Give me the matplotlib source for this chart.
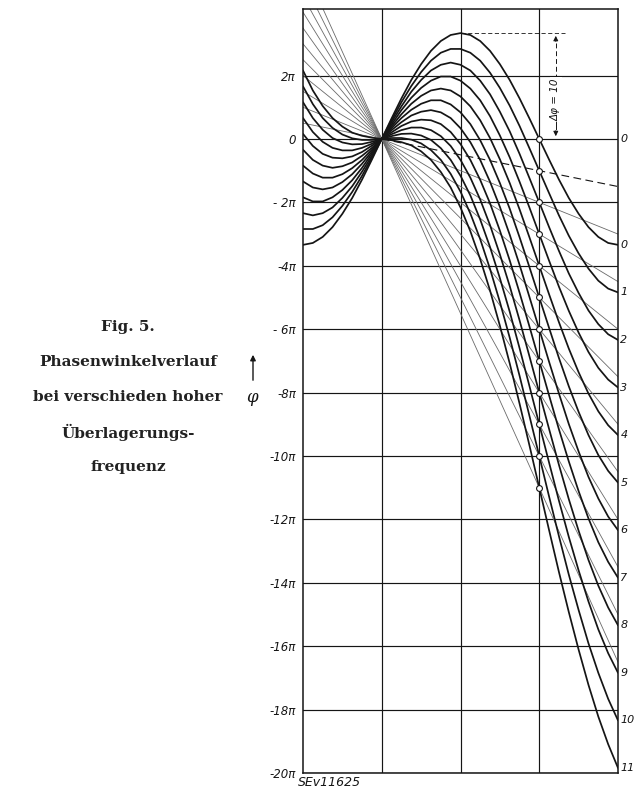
import matplotlib
matplotlib.use('Agg')
import matplotlib.pyplot as plt

# phase angle in units of pi, sampled along the time axis (4 grid columns)
X = [0, 0.125, 0.25, 0.375, 0.5, 0.625, 0.75, 0.875, 1, 1.125, 1.25, 1.375, 1.5,
     1.625, 1.75, 1.875, 2, 2.125, 2.25, 2.375, 2.5, 2.625, 2.75, 2.875, 3,
     3.125, 3.25, 3.375, 3.5, 3.625, 3.75, 3.875, 4]

CURVE_0 = [-3.34, -3.28, -3.09, -2.78, -2.36, -1.86, -1.28, -0.65, 0, 0.65, 1.28, 1.86, 2.36,
           2.78, 3.09, 3.28, 3.34, 3.28, 3.09, 2.78, 2.36, 1.86, 1.28, 0.65, 0,
           -0.65, -1.28, -1.86, -2.36, -2.78, -3.09, -3.28, -3.34]
CURVE_1 = [-2.84, -2.84, -2.72, -2.47, -2.11, -1.67, -1.16, -0.59, 0, 0.59, 1.16, 1.67, 2.11,
           2.47, 2.72, 2.84, 2.84, 2.72, 2.47, 2.09, 1.61, 1.05, 0.41, -0.29, -1.00,
           -1.71, -2.41, -3.05, -3.61, -4.09, -4.47, -4.72, -4.84]
CURVE_2 = [-2.34, -2.41, -2.34, -2.16, -1.86, -1.49, -1.03, -0.53, 0, 0.53, 1.03, 1.49, 1.86,
           2.16, 2.34, 2.41, 2.34, 2.16, 1.84, 1.41, 0.86, 0.24, -0.47, -1.23, -2.00,
           -2.78, -3.53, -4.24, -4.86, -5.41, -5.84, -6.16, -6.34]
CURVE_3 = [-1.84, -1.97, -1.97, -1.84, -1.61, -1.30, -0.91, -0.46, 0, 0.46, 0.91, 1.30, 1.61,
           1.84, 1.97, 1.97, 1.84, 1.59, 1.22, 0.72, 0.11, -0.58, -1.35, -2.16, -3.00,
           -3.84, -4.66, -5.42, -6.11, -6.72, -7.22, -7.59, -7.84]
CURVE_4 = [-1.34, -1.53, -1.59, -1.53, -1.36, -1.11, -0.78, -0.40, 0, 0.40, 0.78, 1.11, 1.36,
           1.53, 1.59, 1.53, 1.34, 1.03, 0.59, 0.03, -0.64, -1.39, -2.22, -3.10, -4.00,
           -4.90, -5.78, -6.61, -7.36, -8.03, -8.59, -9.03, -9.34]
CURVE_5 = [-0.84, -1.09, -1.22, -1.22, -1.11, -0.92, -0.66, -0.34, 0, 0.34, 0.66, 0.92, 1.11,
           1.22, 1.22, 1.09, 0.84, 0.47, -0.04, -0.66, -1.39, -2.20, -3.10, -4.04, -5.00,
           -5.96, -6.91, -7.80, -8.61, -9.34, -9.97, -10.47, -10.84]
CURVE_6 = [-0.34, -0.66, -0.84, -0.91, -0.86, -0.74, -0.53, -0.28, 0, 0.28, 0.53, 0.74, 0.86,
           0.91, 0.84, 0.66, 0.34, -0.10, -0.66, -1.35, -2.14, -3.02, -3.97, -4.98, -6.00,
           -7.03, -8.03, -8.99, -9.86, -10.66, -11.34, -11.91, -12.34]
CURVE_7 = [0.16, -0.22, -0.47, -0.59, -0.61, -0.55, -0.41, -0.21, 0, 0.21, 0.41, 0.55, 0.61,
           0.59, 0.47, 0.22, -0.16, -0.66, -1.29, -2.03, -2.89, -3.83, -4.85, -5.91, -7.00,
           -8.09, -9.16, -10.17, -11.11, -11.97, -12.72, -13.34, -13.84]
CURVE_8 = [0.66, 0.22, -0.09, -0.28, -0.36, -0.36, -0.28, -0.15, 0, 0.15, 0.28, 0.36, 0.36,
           0.28, 0.09, -0.22, -0.66, -1.22, -1.91, -2.72, -3.64, -4.64, -5.72, -6.85, -8.00,
           -9.15, -10.28, -11.36, -12.36, -13.28, -14.09, -14.78, -15.34]
CURVE_9 = [1.16, 0.66, 0.29, 0.03, -0.11, -0.17, -0.16, -0.09, 0, 0.09, 0.16, 0.17, 0.11,
           -0.03, -0.29, -0.66, -1.16, -1.78, -2.54, -3.41, -4.39, -5.45, -6.60, -7.79, -9.00,
           -10.21, -11.41, -12.55, -13.61, -14.59, -15.47, -16.22, -16.84]
CURVE_10 = [1.66, 1.10, 0.66, 0.35, 0.14, 0.02, -0.03, -0.03, 0, 0.03, 0.03, -0.02, -0.14,
            -0.35, -0.66, -1.10, -1.66, -2.35, -3.16, -4.10, -5.14, -6.27, -7.47, -8.73, -10.00,
            -11.28, -12.53, -13.74, -14.86, -15.91, -16.84, -17.66, -18.34]
CURVE_11 = [2.16, 1.53, 1.04, 0.66, 0.39, 0.20, 0.10, 0.04, 0, -0.04, -0.10, -0.20, -0.39,
            -0.66, -1.04, -1.53, -2.16, -2.91, -3.79, -4.78, -5.89, -7.08, -8.35, -9.66, -11.00,
            -12.34, -13.66, -14.92, -16.11, -17.22, -18.22, -19.09, -19.84]
CURVES = [CURVE_0, CURVE_1, CURVE_2, CURVE_3, CURVE_4, CURVE_5,
          CURVE_6, CURVE_7, CURVE_8, CURVE_9, CURVE_10, CURVE_11]
CURVE_LABELS = ['0', '1', '2', '3', '4', '5', '6', '7', '8', '9', '10', '11']

# thin straight lines through the common point: value at left and right edge
THIN_LEFT = [0, 0.5, 1.0, 1.5, 2.0, 2.5, 3.0, 3.5, 4.0, 4.5, 5.0, 5.5]
THIN_RIGHT = [0, -1.5, -3.0, -4.5, -6.0, -7.5, -9.0, -10.5, -12.0, -13.5, -15.0, -16.5]
CENTER_X, CENTER_Y = 1, 0      # point that every line and curve passes through

# small circles where the curves meet their straight line
MARK_X = [3] * 12
MARK_Y = [0, -1, -2, -3, -4, -5, -6, -7, -8, -9, -10, -11]

YTICKS = [2, 0, -2, -4, -6, -8, -10, -12, -14, -16, -18, -20]
YLABELS = ['2π', '0', '- 2π', '-4π', '- 6π', '-8π', '-10π', '-12π',
           '-14π', '-16π', '-18π', '-20π']

PEAK = 3.34          # top of the highest curve, for the delta-phi mark
DELTA_X = 3.21

INK = '#151515'
W, H = 635, 787

fig = plt.figure(figsize=(W / 100, H / 100), dpi=100)
ax = fig.add_axes([303 / W, 14 / H, 315 / W, 764 / H])
ax.set_xlim(0, 4)
ax.set_ylim(-20, 4.10)

ax.set_xticks([1, 2, 3])
ax.set_xticklabels([])
ax.set_yticks(YTICKS)
ax.set_yticklabels(YLABELS, fontstyle='italic', fontsize=8.5, color=INK)
ax.tick_params(length=0, pad=5)
ax.grid(True, color=INK, lw=0.85)
for sp in ax.spines.values():
    sp.set_linewidth(1.1)
    sp.set_color(INK)

for i, (a, b) in enumerate(zip(THIN_LEFT, THIN_RIGHT)):
    if i == 0:
        continue                              # coincides with the zero grid line
    if i == 1:                                # this one is dashed right of the centre
        ax.plot([0, CENTER_X], [a, CENTER_Y], color='#6a6a6a', lw=0.6, zorder=2)
        ax.plot([CENTER_X, 4], [CENTER_Y, b], color=INK, lw=0.8, ls=(0, (7, 4)), zorder=2)
    else:
        ax.plot([0, 4], [a, b], color='#6a6a6a', lw=0.6, zorder=2)

for ys in CURVES:
    ax.plot(X, ys, color=INK, lw=1.25, zorder=3, solid_capstyle='round')

ax.plot(MARK_X, MARK_Y, 'o', ms=4.2, mfc='white', mec=INK, mew=0.8, zorder=5)

# labels at the right edge
ax.text(4.03, 0, '0', fontsize=8, fontstyle='italic', va='center', ha='left',
        clip_on=False, color=INK)
for ys, lab in zip(CURVES, CURVE_LABELS):
    ax.text(4.03, ys[-1], lab, fontsize=8, fontstyle='italic', va='center',
            ha='left', clip_on=False, color=INK)

# delta-phi dimension mark
ax.plot([2.0, 3.33], [PEAK, PEAK], color=INK, lw=0.6, ls=(0, (5, 3)), zorder=2)
ax.plot([DELTA_X, DELTA_X], [PEAK - 0.3, 1.95], color=INK, lw=0.7, ls=(0, (5, 3)))
ax.plot([DELTA_X, DELTA_X], [0.55, 0.3], color=INK, lw=0.7)
ax.annotate('', xy=(DELTA_X, PEAK), xytext=(DELTA_X, PEAK - 0.35),
            arrowprops=dict(arrowstyle='-|>', color=INK, lw=0.7, mutation_scale=7))
ax.annotate('', xy=(DELTA_X, 0), xytext=(DELTA_X, 0.35),
            arrowprops=dict(arrowstyle='-|>', color=INK, lw=0.7, mutation_scale=7))
ax.text(DELTA_X, 1.25, 'Δφ = 10', rotation=90, fontsize=7.5, fontstyle='italic',
        ha='center', va='center', color=INK,
        bbox=dict(fc='white', ec='none', pad=0.5))

# axis symbol with arrow
ax.annotate('', xy=(253, H - 352), xycoords='figure pixels',
            xytext=(253, H - 383), textcoords='figure pixels',
            arrowprops=dict(arrowstyle='-|>', color=INK, lw=1.0, mutation_scale=8))
fig.text(252 / W, 1 - 397 / H, 'φ', fontsize=12, fontstyle='italic',
         family='DejaVu Serif', ha='center', va='center', color=INK)

# caption
CAPTION = ['Fig. 5.', 'Phasenwinkelverlauf', 'bei verschieden hoher',
           'Überlagerungs-', 'frequenz']
CAP_Y = [327, 362, 397, 432, 467]
for s, yy in zip(CAPTION, CAP_Y):
    fig.text(128 / W, 1 - yy / H, s, fontsize=11, fontweight='bold',
             family='DejaVu Serif', ha='center', va='center', color='#222')

fig.text(298 / W, 1 - 782 / H, 'SEv11625', fontsize=9, fontstyle='italic',
         ha='left', va='center', color=INK)

fig.savefig('out.png', dpi=100, facecolor='white')
